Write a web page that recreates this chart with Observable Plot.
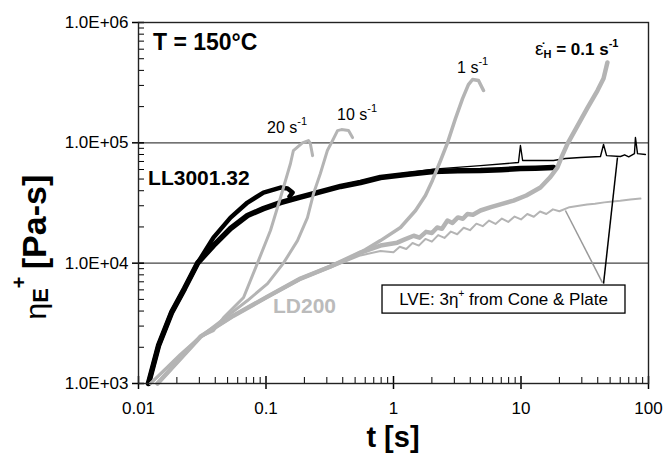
<!DOCTYPE html>
<html><head><meta charset="utf-8">
<script src="https://cdn.jsdelivr.net/npm/d3@7"></script>
<script src="https://cdn.jsdelivr.net/npm/@observablehq/plot@0.6"></script>
<style>
body{margin:0;background:#fff;}
#chart{width:663px;height:454px;}
</style>
</head><body><div id="chart"></div>
<script>
// ---- tick values and labels ----
const xTicks = [0.01, 0.1, 1, 10, 100];
const xTickLabels = ["0.01", "0.1", "1", "10", "100"];
const yTicks = [1e3, 1e4, 1e5, 1e6];
const yTickLabels = ["1.0E+03", "1.0E+04", "1.0E+05", "1.0E+06"];

// ---- LL3001.32 (black) ----
const llLow_t   = [0.01197,0.01436,0.01815,0.02296,0.02904,0.0387,0.0527,0.0716,0.0955,0.130,0.1799,0.236,0.384,0.551,0.79,1.3,2.06,3.2,4.81,7,9.9,13,18];
const llLow_eta = [1000,2065,3880,6150,10000,14000,19400,24900,28400,31900,35100,37900,43400,46800,51500,54800,57700,58500,58900,59800,61100,61500,62400];
const ll20_t    = [0.01197,0.01436,0.01815,0.02296,0.02904,0.0387,0.0527,0.0716,0.0955,0.130,0.1476,0.1615,0.1528];
const ll20_eta  = [1000,2065,3880,6150,10000,16300,23900,31900,38600,42500,41700,38600,35800];
const llLve_t   = [0.1799,0.236,0.384,0.79,2.06,4.81,9.55,9.9,10.3,18,22.3,29.3,42,44.4,46.9,60.3,65,70,77.6,79,82,94.6];
const llLve_eta = [35600,38400,44500,52500,60500,64700,68600,95000,71300,71300,74100,75500,77000,96800,78300,77000,79500,76500,81400,110600,81400,80000];

// ---- LD200 (grey) ----
const ld20_t    = [0.0124,0.0213,0.0306,0.0387,0.0465,0.0667,0.0857,0.1084,0.130,0.1556,0.164,0.193,0.215,0.222,0.232];
const ld20_eta  = [1000,1750,2450,2750,3530,5180,10000,18700,35100,67300,86300,100000,104500,100000,78300];
const ld10_t    = [0.0124,0.0306,0.0527,0.0716,0.1028,0.137,0.1766,0.2114,0.236,0.267,0.303,0.333,0.364,0.391,0.444,0.477];
const ld10_eta  = [1000,2450,3810,4890,6760,10000,15400,23900,37900,55600,86300,104500,126400,128800,126400,110600];
const ld1_t     = [0.0141,0.0306,0.0556,0.1028,0.1866,0.321,0.45,0.6,0.79,1.135,1.49,1.78,2.02,2.34,2.65,3.06,3.48,3.87,4.17,4.64,5.08];
const ld1_eta   = [1000,2450,3660,5270,7450,9450,11000,12900,15400,19800,27400,36500,48700,71300,100000,159000,233000,305000,336000,330000,272000];
const ld01_t    = [0.0141,0.0306,0.0556,0.1028,0.1866,0.321,0.551,0.79,1.07,1.2,1.44,1.6,1.8,2.0,2.2,2.4,2.65,2.9,3.2,3.5,3.8,4.2,4.81,5.8,7,8.73,11,14.2,17,19.3,21,23.2,27.8,33.3,39.8,44.4,47.6];
const ld01_eta  = [1000,2450,3660,5270,7450,9380,12250,14000,14800,15600,16900,16300,18200,17800,19800,19300,22600,21600,24000,23400,25600,25300,27400,29200,31000,33100,36500,42500,52000,62400,78000,98600,139000,196000,272000,342000,465000];
const ldLve_t   = [0.0141,0.0306,0.0556,0.1028,0.1866,0.321,0.551,0.79,1.0,1.12,1.26,1.41,1.58,1.78,2.0,2.24,2.51,2.82,3.16,3.55,3.98,4.47,5.01,5.62,6.31,7.08,7.94,8.91,10,11.2,12.6,14.1,15.8,17.8,20,24,29.3,33,38,45,52,60,72,86.5];
const ldLve_eta = [1000,2450,3640,5200,7300,9200,11600,12600,12300,13700,13100,14700,14000,15900,15100,17100,16200,18300,17400,19700,18800,21300,20300,22600,21200,23500,22000,24400,23100,25600,24300,26900,25600,28000,27000,29200,30100,30700,31200,32000,32600,33000,33800,34400];

const zip = (t, e) => t.map((v, i) => ({t: v, eta: e[i]}));

// ---- layout ----
const W = 663, H = 454, mL = 138, mR = 15, mT = 22, mB = 71;
const innerW = W - mL - mR, innerH = H - mT - mB;
const GREY = "#b4b4b4";

// minor ticks (2..9 of each decade)
const yMinor = [], xMinor = [];
for (let d = 1e3; d < 1e6; d *= 10) for (let k = 2; k <= 9; k++) yMinor.push(d * k);
for (let d = 0.01; d < 99; d *= 10) for (let k = 2; k <= 9; k++) xMinor.push(+(d * k).toPrecision(3));

// annotation pointer lines and box (data coordinates)
const pointers = [
  {t1: 22.3, e1: 27400, t2: 43.5, e2: 6900, c: "#999"},
  {t1: 57.1, e1: 75500, t2: 44.4, e2: 6760, c: "#000"}
];
const lveBox = {t1: 0.82, t2: 66, e1: 3810, e2: 6520};

const plot = Plot.plot({
  width: W, height: H,
  marginLeft: mL, marginRight: mR, marginTop: mT, marginBottom: mB,
  style: {fontFamily: "'Liberation Sans', Arial, sans-serif", background: "#fff", color: "#000"},
  x: {type: "log", domain: [0.01, 100]},
  y: {type: "log", domain: [1e3, 1e6]},
  marks: [
    Plot.ruleY([1e4, 1e5], {stroke: "#444", strokeWidth: 1.2}),
    Plot.tickY(yMinor, {y: d => d, insetRight: innerW - 6, stroke: "#000"}),
    Plot.tickY(yTicks, {y: d => d, insetLeft: -6, insetRight: innerW - 6, stroke: "#000", strokeWidth: 1.5}),
    Plot.tickX(xMinor, {x: d => d, insetTop: innerH - 6, stroke: "#000"}),
    Plot.tickX(xTicks, {x: d => d, insetTop: innerH - 7, insetBottom: -6, stroke: "#000", strokeWidth: 1.5}),
    Plot.axisY({ticks: yTicks, tickSize: 0, tickPadding: 10, fontSize: 17, label: null,
      tickFormat: d => yTickLabels[yTicks.indexOf(d)]}),
    Plot.axisX({ticks: xTicks, tickSize: 0, tickPadding: 18, fontSize: 17, label: null,
      tickFormat: d => xTickLabels[xTicks.indexOf(d)]}),
    // black LL3001.32
    Plot.line(zip(llLve_t, llLve_eta), {x: "t", y: "eta", stroke: "#000", strokeWidth: 1.4}),
    Plot.line(zip(llLow_t, llLow_eta), {x: "t", y: "eta", stroke: "#000", strokeWidth: 5.5, strokeLinejoin: "round"}),
    Plot.line(zip(ll20_t, ll20_eta), {x: "t", y: "eta", stroke: "#000", strokeWidth: 4.5, strokeLinejoin: "round"}),
    // grey LD200
    Plot.line(zip(ldLve_t, ldLve_eta), {x: "t", y: "eta", stroke: GREY, strokeWidth: 2}),
    Plot.line(zip(ld01_t, ld01_eta), {x: "t", y: "eta", stroke: GREY, strokeWidth: 4.5, strokeLinejoin: "round"}),
    Plot.line(zip(ld1_t, ld1_eta), {x: "t", y: "eta", stroke: GREY, strokeWidth: 3.5, strokeLinejoin: "round"}),
    Plot.line(zip(ld10_t, ld10_eta), {x: "t", y: "eta", stroke: GREY, strokeWidth: 3, strokeLinejoin: "round"}),
    Plot.line(zip(ld20_t, ld20_eta), {x: "t", y: "eta", stroke: GREY, strokeWidth: 3, strokeLinejoin: "round"}),
    // pointers and box
    Plot.link(pointers, {x1: "t1", y1: "e1", x2: "t2", y2: "e2", stroke: "c", strokeWidth: 1.5}),
    Plot.rect([lveBox], {x1: "t1", x2: "t2", y1: "e1", y2: "e2", fill: "#fff", stroke: "#000", strokeWidth: 1.3}),
    Plot.frame({stroke: "#222", strokeWidth: 1.4})
  ]
});
document.getElementById("chart").appendChild(plot);

// ---- text annotations with sub/superscripts ----
const sx = plot.scale("x"), sy = plot.scale("y");
const svg = d3.select(plot);
const FF = "'Liberation Sans', Arial, sans-serif";
function label(t, e, parts, opts = {}) {
  const el = svg.append("text")
    .attr("x", sx.apply(t)).attr("y", sy.apply(e))
    .attr("font-family", FF)
    .attr("font-size", opts.size || 16)
    .attr("font-weight", opts.weight || "normal")
    .attr("fill", opts.fill || "#000")
    .attr("text-anchor", opts.anchor || "start");
  for (const p of parts) {
    const ts = el.append("tspan").text(p.s);
    if (p.size) ts.attr("font-size", p.size);
    if (p.dy) ts.attr("dy", p.dy);
    if (p.weight) ts.attr("font-weight", p.weight);
  }
  return el;
}
label(0.0131, 585000, [{s: "T = 150°C"}], {size: 23, weight: "bold"});
label(0.0120, 44200, [{s: "LL3001.32"}], {size: 21, weight: "bold"});
label(0.1145, 3810, [{s: "LD200"}], {size: 21, weight: "bold", fill: "#bbb"});
label(0.1028, 119000, [{s: "20 s"}, {s: "-1", size: 11, dy: -8}]);
label(0.364, 153000, [{s: "10 s"}, {s: "-1", size: 11, dy: -8}]);
label(3.18, 377000, [{s: "1 s"}, {s: "-1", size: 11, dy: -8}]);
label(13.0, 532000, [{s: "\u03B5\u0307", weight: "normal", size: 19}, {s: "H", size: 11, dy: 3}, {s: " = 0.1 s", dy: -3}, {s: "-1", size: 11, dy: -8}], {size: 17, weight: "bold"});

// box text
const bx = (sx.apply(lveBox.t1) + sx.apply(lveBox.t2)) / 2;
const by = (sy.apply(lveBox.e1) + sy.apply(lveBox.e2)) / 2 + 6;
const bt = svg.append("text").attr("x", bx).attr("y", by).attr("text-anchor", "middle")
  .attr("font-family", FF).attr("font-size", 17);
bt.append("tspan").text("LVE: 3\u03B7");
bt.append("tspan").text("+").attr("font-size", 10).attr("dy", -8);
bt.append("tspan").text(" from Cone & Plate").attr("dy", 8);

// axis titles
svg.append("text").attr("x", 393).attr("y", 447).attr("text-anchor", "middle")
  .attr("font-family", FF).attr("font-size", 29).attr("font-weight", "bold").text("t [s]");
const yt1 = svg.append("text").attr("transform", "translate(46,298) rotate(-90)")
  .attr("font-family", FF);
yt1.append("tspan").text("\u03B7").attr("font-size", 30);
yt1.append("tspan").text("E").attr("font-size", 22).attr("font-weight", "bold").attr("dy", 2);
yt1.append("tspan").text("+").attr("font-size", 20).attr("font-weight", "bold").attr("dy", -22);
svg.append("text").attr("transform", "translate(46,222) rotate(-90)")
  .attr("font-family", FF).attr("font-size", 34).attr("font-weight", "bold").text("[Pa-s]");
</script>
</body></html>
